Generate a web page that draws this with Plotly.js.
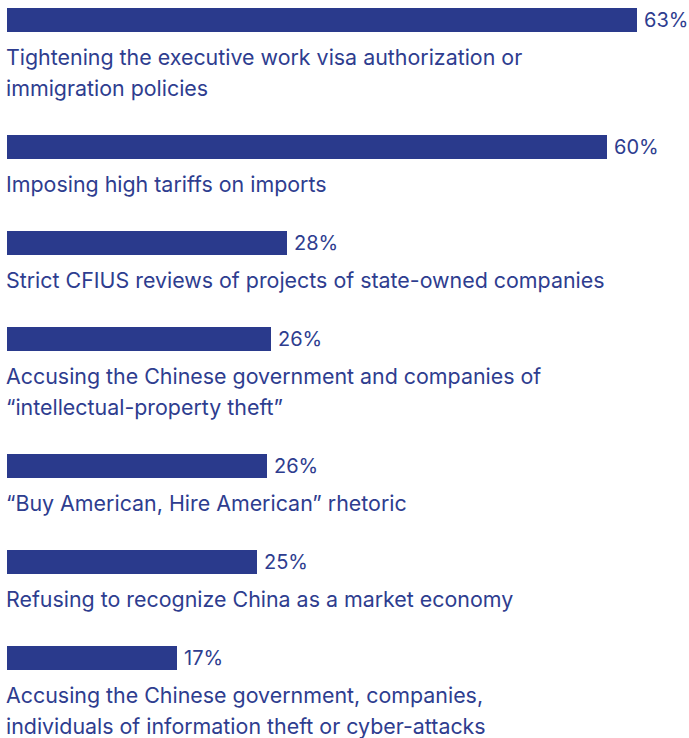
<!DOCTYPE html>
<html>
<head>
<meta charset="utf-8">
<script src="https://cdn.plot.ly/plotly-3.0.1.min.js"></script>
<style>html,body{margin:0;padding:0;background:#fff;}#chart{width:689px;height:738px;}</style>
</head>
<body>
<div id="chart"></div>
<script>
// Data
var categories = [
  "Tightening the executive work visa authorization or<br>immigration policies",
  "Imposing high tariffs on imports",
  "Strict CFIUS reviews of projects of state-owned companies",
  "Accusing the Chinese government and companies of<br>“intellectual-property theft”",
  "“Buy American, Hire American” rhetoric",
  "Refusing to recognize China as a market economy",
  "Accusing the Chinese government, companies,<br>individuals of information theft or cyber-attacks"
];
var values = [63, 60, 28, 26.4, 26, 25, 17];
var valueLabels = ["63%", "60%", "28%", "26%", "26%", "25%", "17%"];

// Layout helpers (vertical positions derived from number of label lines)
var BAR_COLOR = "#2a3a8c";
var TEXT_COLOR = "#2e3d8f";
var FONT = "Inter, 'Open Sans', sans-serif";
var LABEL_SIZE = 21.4;
var VALUE_SIZE = 20;
var LINE_H = 31;
var barPos = [];
var y = 20;
categories.forEach(function (c, i) {
  barPos.push(y);
  y += 65 + LINE_H * c.split("<br>").length;
});

var annotations = [];
categories.forEach(function (c, i) {
  c.split("<br>").forEach(function (line, j) {
    annotations.push({
      x: 0, y: barPos[i] + 37 + LINE_H * j, xref: "x", yref: "y",
      text: line, showarrow: false, xanchor: "left", yanchor: "middle",
      xshift: -3,
      font: {family: FONT, size: LABEL_SIZE, color: TEXT_COLOR}
    });
  });
  annotations.push({
    x: values[i], y: barPos[i], xref: "x", yref: "y",
    text: valueLabels[i], showarrow: false, xanchor: "left", yanchor: "middle",
    xshift: 5,
    font: {family: FONT, size: VALUE_SIZE, color: TEXT_COLOR}
  });
});

var trace = {
  type: "bar", orientation: "h",
  x: values, y: barPos, width: 24,
  marker: {color: BAR_COLOR},
  hoverinfo: "none"
};

var layout = {
  width: 689, height: 738,
  margin: {l: 0, r: 0, t: 0, b: 0},
  paper_bgcolor: "#fff", plot_bgcolor: "#fff",
  showlegend: false,
  xaxis: {range: [-0.7, 68.2], visible: false, fixedrange: true},
  yaxis: {range: [738, 0], visible: false, fixedrange: true},
  annotations: annotations,
  bargap: 0
};

Plotly.newPlot("chart", [trace], layout, {displayModeBar: false, staticPlot: true});
</script>
</body>
</html>
